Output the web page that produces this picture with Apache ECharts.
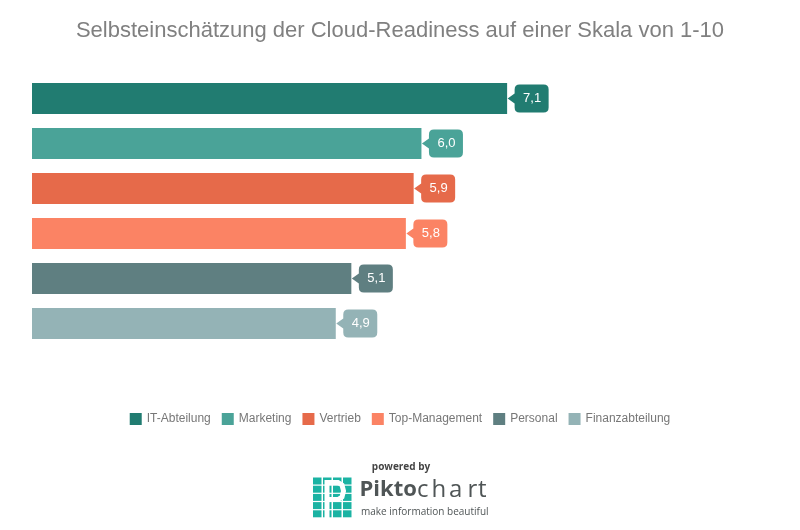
<!DOCTYPE html>
<html>
<head>
<meta charset="utf-8">
<script src="https://cdn.jsdelivr.net/npm/echarts@6/dist/echarts.min.js"></script>
<style>html,body{margin:0;padding:0;background:#fff}#c{width:800px;height:530px}</style>
</head>
<body>
<div id="c"></div>
<script>
const categories = ['IT-Abteilung', 'Marketing', 'Vertrieb', 'Top-Management', 'Personal', 'Finanzabteilung'];
const values = [7.1, 6.0, 5.9, 5.8, 5.1, 4.9];
const colors = ['#217c71', '#4aa398', '#e66a4a', '#fb8364', '#5f7f81', '#94b3b6'];
const titleText = 'Selbsteinschätzung der Cloud-Readiness auf einer Skala von 1-10';

const FONT = '"Liberation Sans", Arial, sans-serif';
const bubblePath = 'path://M7,9 L0,14 L7,19 L7,23 Q7,28 12,28 L36,28 Q41,28 41,23 L41,5 Q41,0 36,0 L12,0 Q7,0 7,5 Z';

const series = categories.map((name, i) => ({
  name: name,
  type: 'bar',
  barWidth: 31,
  barGap: '-100%',
  itemStyle: { color: colors[i] },
  data: categories.map((c, j) => j === i ? values[i] : '-'),
  markPoint: {
    symbol: bubblePath,
    symbolSize: [41, 28],
    symbolKeepAspect: false,
    symbolOffset: [21, 0],
    itemStyle: { color: colors[i] },
    label: {
      show: true,
      position: 'inside',
      offset: [4, 0],
      color: '#fff',
      fontSize: 13,
      fontFamily: FONT,
      formatter: () => values[i].toFixed(1).replace('.', ',')
    },
    data: [{ coord: [values[i], name] }]
  }
}));

// Piktochart logo graphics
const logo = [];
const teal = '#1bb3a3';
for (let c = 0; c < 4; c++) {
  for (let r = 0; r < 5; r++) {
    logo.push({ type: 'rect', shape: { x: 313 + c * 10, y: 477.5 + r * 8.2, width: 8.5, height: 7 }, style: { fill: teal }, z: 10 });
  }
}
logo.push({
  type: 'polyline', z: 11,
  shape: { points: [[327, 519], [327, 482.5], [338, 482.5], [342, 485], [343.5, 491], [342, 497], [338, 499.5], [327, 499.5]] },
  style: { stroke: '#fff', lineWidth: 5, fill: null }
});
logo.push({ type: 'text', z: 10, style: { text: 'powered by', x: 401, y: 467.5, align: 'center', verticalAlign: 'middle', fill: '#444', font: 'bold 10px "Open Sans", sans-serif' } });
logo.push({ type: 'text', z: 10, style: { text: 'Pikto', x: 359.5, y: 490, verticalAlign: 'middle', fill: '#4f5556', font: 'bold 22px "Open Sans", sans-serif' } });
const chartLetters = [['c', 417], ['h', 431.5], ['a', 449], ['r', 467.5], ['t', 478]];
chartLetters.forEach(([ch, x]) => {
  logo.push({ type: 'text', z: 10, style: { text: ch, x: x, y: 490, verticalAlign: 'middle', fill: '#4f5556', font: '24px "Open Sans", sans-serif' } });
});
logo.push({ type: 'text', z: 10, style: { text: 'make information beautiful', x: 361, y: 512.5, verticalAlign: 'middle', fill: '#4f5556', font: '10px "Open Sans", sans-serif' } });

const chart = echarts.init(document.getElementById('c'), null, { renderer: 'canvas' });
chart.setOption({
  animation: false,
  backgroundColor: '#fff',
  title: {
    text: titleText,
    left: 'center',
    top: 15,
    textStyle: { fontSize: 22, fontWeight: 'normal', color: '#808080', fontFamily: FONT }
  },
  legend: {
    data: categories,
    top: 408,
    left: 'center',
    itemWidth: 12,
    itemHeight: 12,
    itemGap: 11,
    icon: 'rect',
    textStyle: { color: '#777', fontSize: 12, fontFamily: FONT }
  },
  grid: { left: 32, right: 67, top: 76, height: 270, containLabel: false },
  xAxis: {
    type: 'value', min: 1, max: 10,
    show: false
  },
  yAxis: {
    type: 'category', data: categories, inverse: true,
    show: false
  },
  graphic: logo,
  series: series
});
</script>
</body>
</html>
